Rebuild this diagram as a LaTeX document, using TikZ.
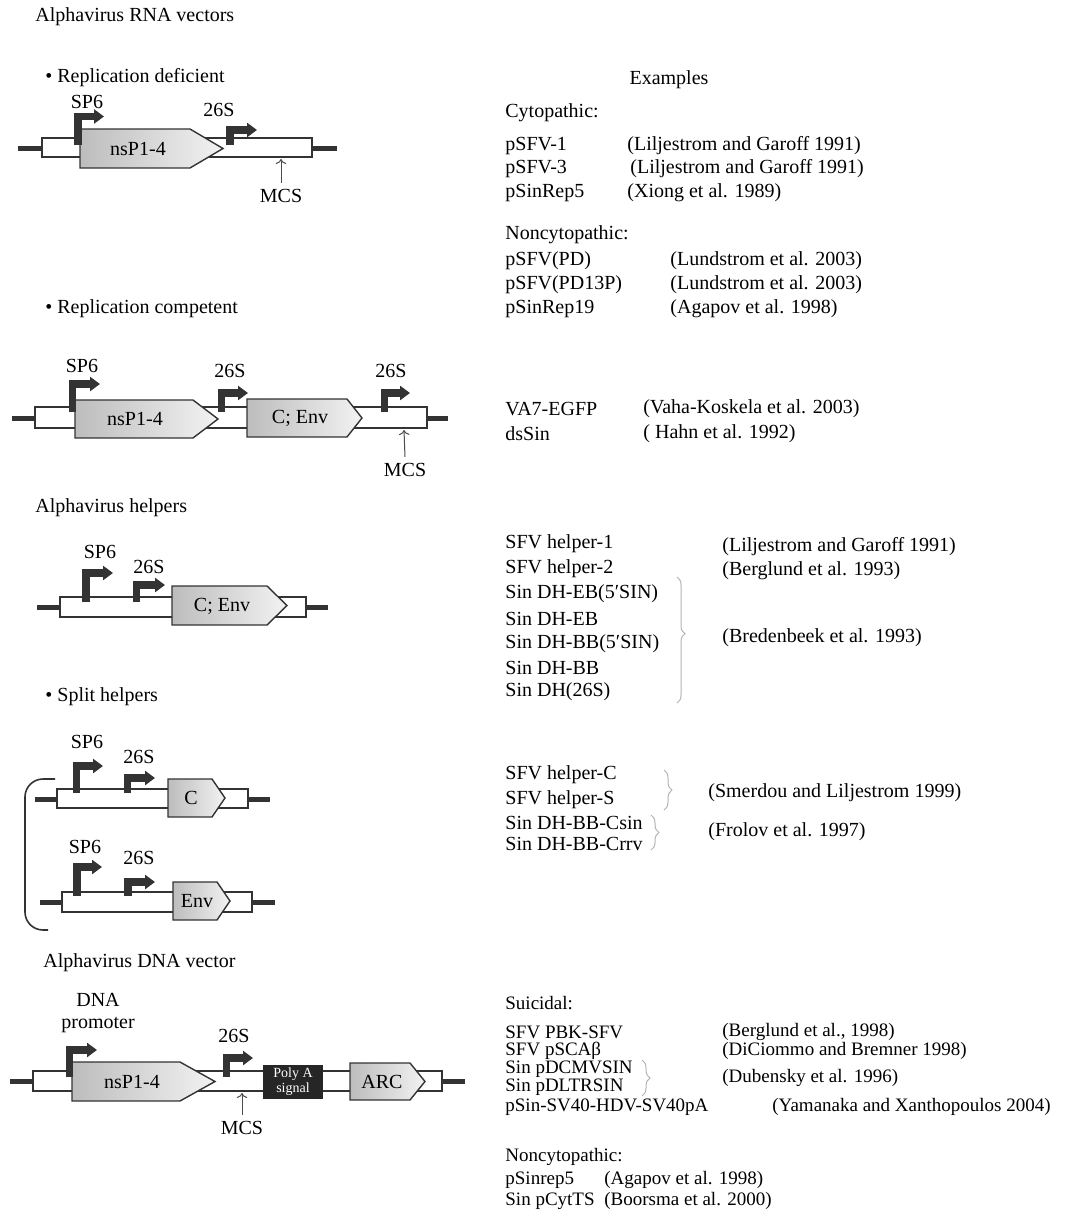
\documentclass[tikz,border=0pt]{standalone}
\usepackage{fontspec}
\setmainfont{Liberation Serif}
\usetikzlibrary{arrows.meta, decorations.pathreplacing}

\begin{document}
\begin{tikzpicture}[x=0.5pt, y=-0.5pt,
    txt/.style={font=\fontsize{10}{11}\selectfont, inner sep=0pt},
    lft/.style={txt, anchor=west},
    sml/.style={lft, font=\fontsize{9.5}{10.5}\selectfont},
    stub/.style={line width=2.5pt, black!80},
    rnabox/.style={draw=black!80, line width=0.6pt, fill=white},
    gene/.style={draw=black!80, line width=0.7pt, left color=black!26, right color=black!5},
    prom/.style={line width=3.6pt, black!80, -{Triangle[length=5pt, width=7pt]}},
    mcsarrow/.style={black!70, line width=0.5pt, -{To[length=2.5pt]}},
    brc/.style={black!30, line width=0.5pt, decorate, decoration={brace, amplitude=4pt, #1}},
    brc/.default={aspect=0.5}]

\useasboundingbox (0,0) rectangle (1075,1216);

% left column headings
\node[lft] (rnavec) at (35,17) {Alphavirus RNA vectors};
\node[lft] (repdef) at (45,78) {\textbullet\ Replication deficient};
\node[lft] (repcomp) at (45,309) {\textbullet\ Replication competent};
\node[lft] (helpers) at (35,508) {Alphavirus helpers};
\node[lft] (split) at (45,697) {\textbullet\ Split helpers};
\node[lft] (dnavec) at (43,963) {Alphavirus DNA vector};

% replication deficient
\draw[stub] (18,148) -- (42,148) (312,148) -- (337,148);
\draw[rnabox] (42,138) rectangle (312,157);
\draw[gene] (80,129) -- (190,129) -- (223,148.5) -- (190,168) -- (80,168) -- cycle;
\node[txt] (nspa) at (138,149) {nsP1-4};
\draw[prom] (78,145) |- (104,116.5);
\node[txt] (spa) at (87,102) {SP6};
\draw[prom] (230,145) |- (257,130);
\node[txt] (ssa) at (219,110) {26S};
\node[txt] (mcsa) at (281,196) {MCS};
\coordinate (mcsatip) at (281,159);
\draw[mcsarrow] ([yshift=3pt]mcsa.north) -- (mcsatip);

% replication competent
\draw[stub] (12,418) -- (35,418) (427,418) -- (448,418);
\draw[rnabox] (35,407) rectangle (427,428);
\draw[gene] (75,400) -- (193,400) -- (218,419) -- (193,438) -- (75,438) -- cycle;
\node[txt] (nspb) at (135,419) {nsP1-4};
\draw[gene] (247,399) -- (347,399) -- (362,418) -- (347,437) -- (247,437) -- cycle;
\node[txt] (envb) at (300,418) {C; Env};
\draw[prom] (72.5,412) |- (100,384);
\node[txt] (spb) at (82,366) {SP6};
\draw[prom] (221.5,412) |- (248,393);
\node[txt] (ssb) at (230,371) {26S};
\draw[prom] (384.5,412) |- (410,393);
\node[txt] (ssc) at (391,371) {26S};
\node[txt] (mcsb) at (405,470) {MCS};
\coordinate (mcsbtip) at (404,430);
\draw[mcsarrow] ([yshift=3pt]mcsb.north) -- (mcsbtip);

% helper
\draw[stub] (37,607) -- (60,607) (306,607) -- (328,607);
\draw[rnabox] (60,597) rectangle (306,617);
\draw[gene] (172,586) -- (267,586) -- (287,605.5) -- (267,625) -- (172,625) -- cycle;
\node[txt] (envc) at (222,606) {C; Env};
\draw[prom] (86,602) |- (113,573);
\node[txt] (spc) at (100,552) {SP6};
\draw[prom] (136.5,602) |- (165,585);
\node[txt] (ssd) at (149,567) {26S};

% split helpers
\draw[stub] (35,799) -- (57,799) (248,799) -- (270,799);
\draw[rnabox] (57,789) rectangle (248,808);
\draw[gene] (168,779) -- (212,779) -- (225,798) -- (212,817) -- (168,817) -- cycle;
\node[txt] (capd) at (191,798) {C};
\draw[prom] (76.5,793) |- (103,766);
\node[txt] (spd) at (87,742) {SP6};
\draw[prom] (127.5,793) |- (155,778);
\node[txt] (sse) at (139,757) {26S};

\draw[stub] (40,902) -- (62,902) (252,902) -- (275,902);
\draw[rnabox] (62,892) rectangle (252,912);
\draw[gene] (173,882) -- (217,882) -- (230,901) -- (217,920) -- (173,920) -- cycle;
\node[txt] (enve) at (197,901) {Env};
\draw[prom] (77,896) |- (102,867);
\node[txt] (spe) at (85,847) {SP6};
\draw[prom] (128,896) |- (155,882);
\node[txt] (ssf) at (139,858) {26S};

\draw[black!80, line width=0.8pt, rounded corners=9pt] (55,779) -- (25,779) -- (25,930) -- (48,930);

% DNA vector
\draw[stub] (10,1081) -- (33,1081) (442,1081) -- (465,1081);
\draw[rnabox] (33,1071) rectangle (442,1091);
\draw[gene] (72,1062) -- (180,1062) -- (215,1081.5) -- (180,1101) -- (72,1101) -- cycle;
\node[txt] (nspf) at (132,1082) {nsP1-4};
\draw[gene] (350,1063) -- (410,1063) -- (425,1081.5) -- (410,1100) -- (350,1100) -- cycle;
\node[txt] (arc) at (382,1082) {ARC};
\node[fill=black!85, text=white, minimum width=30pt, minimum height=17pt, inner sep=0pt,
      align=center, font=\fontsize{7}{7.5}\selectfont] (polya) at (293,1081.5) {Poly A\\signal};
\draw[prom] (69.5,1077) |- (97,1050);
\node[txt, align=center] (dnaprom) at (98,1013) {DNA\\promoter};
\draw[prom] (226.5,1077) |- (253,1058);
\node[txt] (ssg) at (234,1036) {26S};
\node[txt] (mcsc) at (242,1128) {MCS};
\coordinate (mcsctip) at (242,1093);
\draw[mcsarrow] ([yshift=3pt]mcsc.north) -- (mcsctip);

% examples
\node[txt] (examples) at (669,80) {Examples};
\node[lft] (cyto) at (505,113) {Cytopathic:};
\foreach \nm/\rf/\xx/\yy [count=\i] in {pSFV-1/{(Liljestrom and Garoff 1991)}/627/146,
    pSFV-3/{(Liljestrom and Garoff 1991)}/630/169, pSinRep5/{(Xiong et al. 1989)}/627/193}
  {\node[lft] (cy\i) at (505,\yy) {\nm};
   \node[lft] (cyref\i) at (\xx,\yy) {\rf};}
\node[lft] (noncya) at (505,235) {Noncytopathic:};
\foreach \nm/\rf/\yy [count=\i] in {pSFV(PD)/{(Lundstrom et al. 2003)}/261,
    pSFV(PD13P)/{(Lundstrom et al. 2003)}/285, pSinRep19/{(Agapov et al. 1998)}/309}
  {\node[lft] (nc\i) at (505,\yy) {\nm};
   \node[lft] (ncref\i) at (670,\yy) {\rf};}
\foreach \nm/\rf/\yy [count=\i] in {VA7-EGFP/{(Vaha-Koskela et al. 2003)}/409,
    dsSin/{( Hahn et al. 1992)}/434}
  {\node[lft] (rc\i) at (505,\yy) {\nm};
   \node[lft] (rcref\i) at (643,\yy) {\rf};}

\foreach \nm/\yy [count=\i] in {SFV helper-1/544, SFV helper-2/569, Sin DH-EB(5′SIN)/594,
    Sin DH-EB/619, Sin DH-BB(5′SIN)/644, Sin DH-BB/668, Sin DH(26S)/692}
  \node[lft] (hp\i) at (505,\yy) {\nm};
\node[lft] (hpref1) at (722,547) {(Liljestrom and Garoff 1991)};
\node[lft] (hpref2) at (722,571) {(Berglund et al. 1993)};
\node[lft] (hpref3) at (722,638) {(Bredenbeek et al. 1993)};
\draw[brc={aspect=0.45}] (677,577) -- (677,703);

\foreach \nm/\yy [count=\i] in {SFV helper-C/775, SFV helper-S/800, Sin DH-BB-Csin/823, Sin DH-BB-Crrv/844}
  \node[lft] (sp\i) at (505,\yy) {\nm};
\node[lft] (spref1) at (708,793) {(Smerdou and Liljestrom 1999)};
\node[lft] (spref2) at (708,832) {(Frolov et al. 1997)};
\draw[brc] (664,770) -- (664,810);
\draw[brc] (651,815) -- (651,850);

\node[sml] (suic) at (505,1003) {Suicidal:};
\node[sml] (dv1) at (505,1032) {SFV PBK-SFV};
\node[sml] (dv2) at (505,1051) {SFV pSCAβ};
\node[sml] (dv3) at (505,1069) {Sin pDCMVSIN};
\node[sml] (dv4) at (505,1087) {Sin pDLTRSIN};
\node[sml] (dv5) at (505,1107) {pSin-SV40-HDV-SV40pA};
\node[sml] (dvref1) at (722,1032) {(Berglund et al., 1998)};
\node[sml] (dvref2) at (722,1051) {(DiCiommo and Bremner 1998)};
\node[sml] (dvref3) at (722,1078) {(Dubensky et al. 1996)};
\node[sml] (dvref5) at (772,1107) {(Yamanaka and Xanthopoulos 2004)};
\draw[brc] (642,1060) -- (642,1096);
\node[sml] (noncyb) at (505,1157) {Noncytopathic:};
\node[sml] (dn1) at (505,1180) {pSinrep5};
\node[sml] (dn2) at (505,1201) {Sin pCytTS};
\node[sml] (dnref1) at (604,1180) {(Agapov et al. 1998)};
\node[sml] (dnref2) at (604,1201) {(Boorsma et al. 2000)};
\end{tikzpicture}
\end{document}
